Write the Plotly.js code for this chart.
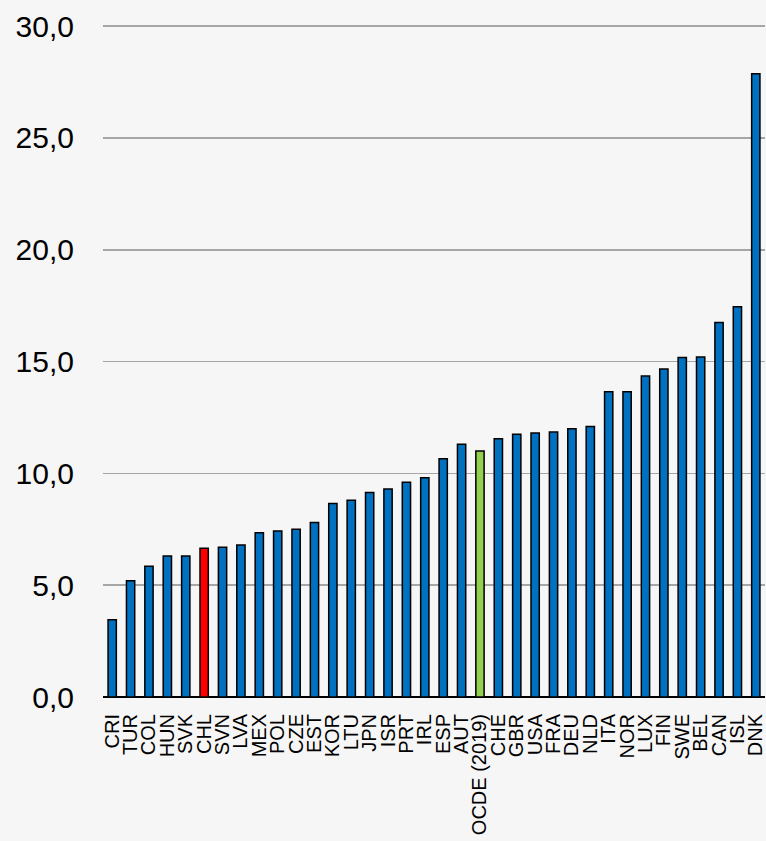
<!DOCTYPE html>
<html>
<head>
<meta charset="utf-8">
<script src="https://cdn.plot.ly/plotly-3.0.1.min.js"></script>
<style>
html,body{margin:0;padding:0;background:#f6f6f6;}
#chart{width:766px;height:841px;}
</style>
</head>
<body>
<div id="chart"></div>
<script>
const categories = ["CRI","TUR","COL","HUN","SVK","CHL","SVN","LVA","MEX","POL","CZE","EST","KOR","LTU","JPN","ISR","PRT","IRL","ESP","AUT","OCDE (2019)","CHE","GBR","USA","FRA","DEU","NLD","ITA","NOR","LUX","FIN","SWE","BEL","CAN","ISL","DNK"];
const values = [3.45,5.2,5.85,6.3,6.3,6.65,6.7,6.8,7.35,7.42,7.5,7.8,8.65,8.8,9.15,9.3,9.6,9.8,10.65,11.3,11.0,11.55,11.75,11.8,11.85,12.0,12.1,13.65,13.65,14.35,14.67,15.18,15.2,16.75,17.45,27.87];
const yTicks = [0,5,10,15,20,25,30];
const yTickLabels = ["0,0","5,0","10,0","15,0","20,0","25,0","30,0"];

const colors = categories.map(c => c === "CHL" ? "#FF0000" : (c === "OCDE (2019)" ? "#92D050" : "#0070C0"));

const trace = {
  type: "bar",
  x: categories,
  y: values,
  marker: {color: colors, line: {color: "#000000", width: 1.5}},
  hoverinfo: "x+y"
};

const layout = {
  width: 766,
  height: 841,
  margin: {l: 103, r: 1, t: 25, b: 144},
  paper_bgcolor: "#f6f6f6",
  plot_bgcolor: "rgba(0,0,0,0)",
  bargap: 0.55,
  showlegend: false,
  font: {family: "Arial, 'Liberation Sans', sans-serif", color: "#000000"},
  xaxis: {
    type: "category",
    tickmode: "array",
    tickvals: categories,
    ticktext: categories,
    tickangle: -90,
    tickfont: {size: 20, color: "#000000"},
    ticks: "",
    ticklabelstandoff: 12,
    showgrid: false,
    showline: false,
    zeroline: false,
    automargin: false
  },
  yaxis: {
    range: [0, 30.05],
    tickvals: yTicks,
    ticktext: yTickLabels,
    tickfont: {size: 30, color: "#000000"},
    ticks: "",
    ticklabelstandoff: 28,
    showgrid: true,
    gridcolor: "#a6a6a6",
    gridwidth: 1.5,
    zeroline: true,
    zerolinecolor: "#000000",
    zerolinewidth: 2.5,
    showline: false,
    automargin: false
  }
};

Plotly.newPlot("chart", [trace], layout, {displayModeBar: false, staticPlot: true});
</script>
</body>
</html>
